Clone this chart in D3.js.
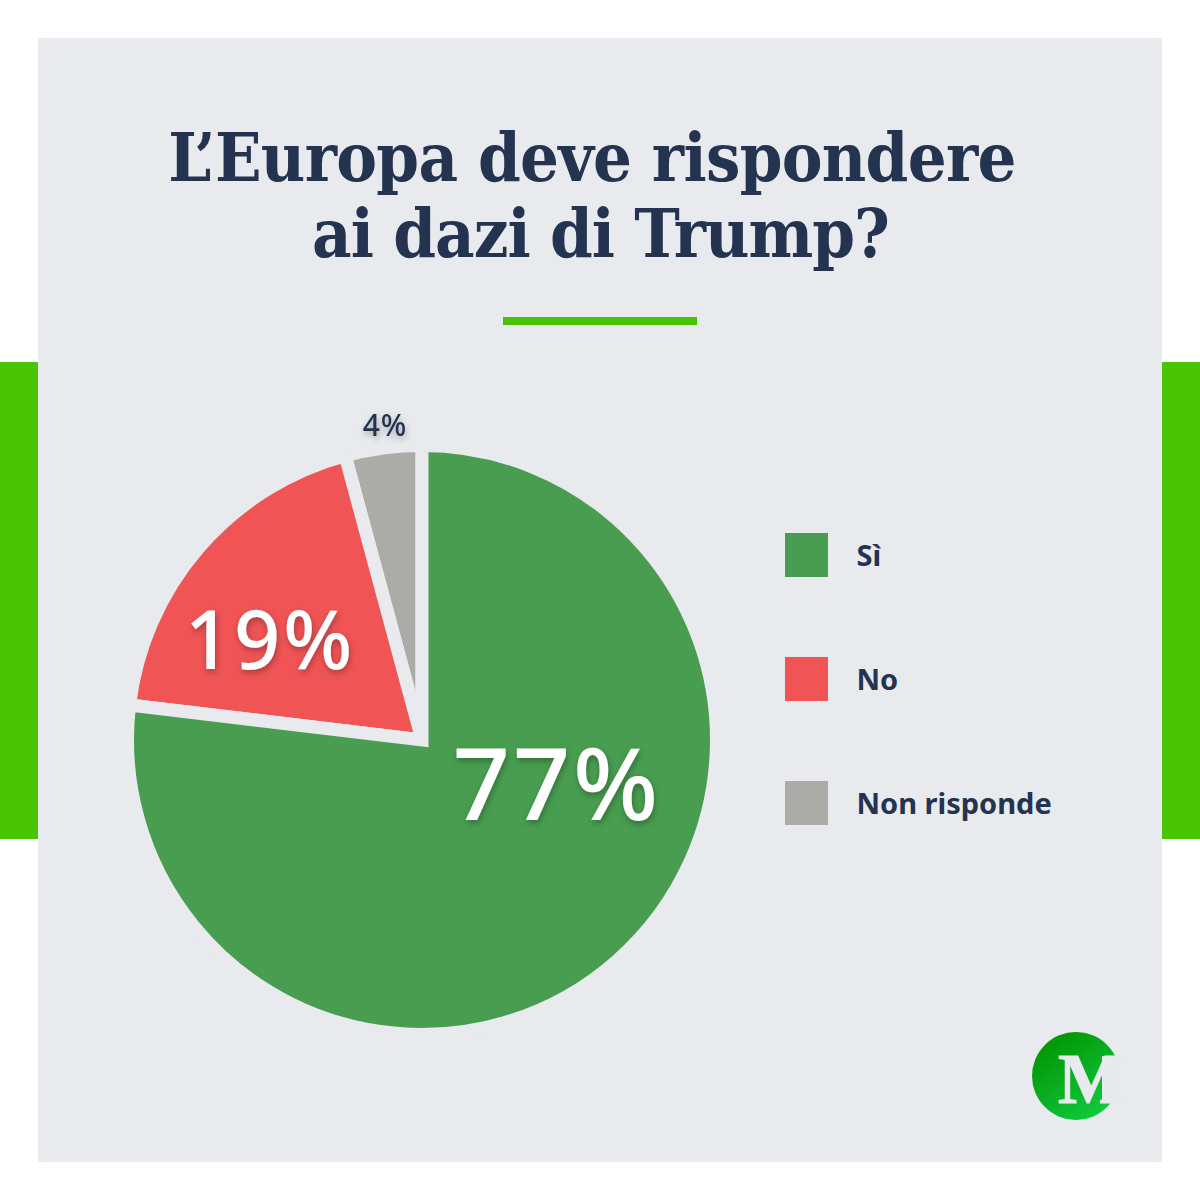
<!DOCTYPE html>
<html>
<head>
<meta charset="utf-8">
<script src="https://cdn.jsdelivr.net/npm/d3@7"></script>
<style>
  html, body { margin: 0; padding: 0; background: #fff; }
  svg { display: block; }
</style>
</head>
<body>
<div id="chart"></div>
<script>
var categories = ['Sì', 'No', 'Non risponde'];
var values = [76.9, 18.9, 4.2];
var colors = ['#489d50', '#f05455', '#ababa8'];
var titleLines = ['L’Europa deve rispondere', 'ai dazi di Trump?'];

var bg = '#e8eaee', ink = '#233350', accent = '#48c404';
var sans = '"Noto Sans", Lato, sans-serif';
var serif = '"DejaVu Serif Condensed", "DejaVu Serif", serif';
var pct = d3.format('.0f');

var svg = d3.select('#chart').append('svg')
    .attr('width', 1200)
    .attr('height', 1200);

var defs = svg.append('defs');

var shadow = defs.append('filter').attr('id', 'shadow')
    .attr('x', '-20%').attr('y', '-20%').attr('width', '140%').attr('height', '140%');
shadow.append('feDropShadow')
    .attr('dx', 1).attr('dy', 3).attr('stdDeviation', 3)
    .attr('flood-color', '#000').attr('flood-opacity', 0.3);

var logoGrad = defs.append('linearGradient').attr('id', 'logoGrad')
    .attr('x1', '15%').attr('y1', '10%').attr('x2', '80%').attr('y2', '95%');
logoGrad.append('stop').attr('offset', '0%').attr('stop-color', '#029504');
logoGrad.append('stop').attr('offset', '100%').attr('stop-color', '#10cb40');

// side bars + panel
svg.append('rect').attr('x', 0).attr('y', 362).attr('width', 1200).attr('height', 477).attr('fill', accent);
svg.append('rect').attr('x', 38).attr('y', 38).attr('width', 1124).attr('height', 1124).attr('fill', bg);

// title
var titleX = [592, 600.5];
var titleSpacing = [-0.7, -1];
svg.selectAll('text.title')
    .data(titleLines)
    .join('text')
    .attr('class', 'title')
    .attr('x', function(d, i) { return titleX[i]; })
    .attr('y', function(d, i) { return 181 + i * 76; })
    .attr('text-anchor', 'middle')
    .attr('font-family', serif)
    .attr('font-weight', 700)
    .attr('font-size', 68)
    .attr('letter-spacing', function(d, i) { return titleSpacing[i]; })
    .attr('fill', ink)
    .text(function(d) { return d; });

svg.append('rect').attr('x', 503).attr('y', 317).attr('width', 194).attr('height', 8).attr('fill', accent);

// pie, the gaps are a stroke in the panel colour so the outer edge is pushed out by half of it
var radius = 288, gap = 13;
var pie = d3.pie().sort(null)(values);
var arc = d3.arc()
    .innerRadius(0)
    .outerRadius(radius + gap / 2);

var g = svg.append('g').attr('transform', 'translate(422,740)');

// reversed so the big slice's fill sits over the small slices' stroke corners
g.selectAll('path')
    .data(pie.slice().reverse())
    .join('path')
    .attr('d', arc)
    .attr('fill', function(d) { return colors[d.index]; })
    .attr('stroke', bg)
    .attr('stroke-width', gap)
    .attr('stroke-miterlimit', 4);

// labels: offset from the pie centre, sized per slice
var labelLayout = [
    { dx: 135, dy: 80, size: 100, spacing: 3, fill: '#fff' },
    { dx: -152, dy: -71, size: 81, spacing: 3, fill: '#fff' },
    { dx: -37, dy: -304, size: 30, spacing: 1, fill: ink }
];

g.selectAll('text')
    .data(values)
    .join('text')
    .attr('x', function(d, i) { return labelLayout[i].dx; })
    .attr('y', function(d, i) { return labelLayout[i].dy; })
    .attr('text-anchor', 'middle')
    .attr('font-family', sans)
    .attr('font-weight', 500)
    .attr('font-size', function(d, i) { return labelLayout[i].size; })
    .attr('letter-spacing', function(d, i) { return labelLayout[i].spacing; })
    .attr('fill', function(d, i) { return labelLayout[i].fill; })
    .attr('filter', 'url(#shadow)')
    .text(function(d) { return pct(d) + '%'; });

// legend
var legendY = d3.scalePoint().domain(categories).range([555, 803]);

var legend = svg.selectAll('g.legend')
    .data(categories)
    .join('g')
    .attr('class', 'legend')
    .attr('transform', function(d) { return 'translate(785,' + legendY(d) + ')'; });

legend.append('rect')
    .attr('y', -22)
    .attr('width', 43)
    .attr('height', 44)
    .attr('fill', function(d, i) { return colors[i]; });

legend.append('text')
    .attr('x', 71.5)
    .attr('y', 11)
    .attr('font-family', sans)
    .attr('font-weight', 700)
    .attr('font-size', 29)
    .attr('fill', ink)
    .text(function(d) { return d; });

// logo
var logo = svg.append('g');
logo.append('circle').attr('cx', 1076).attr('cy', 1076).attr('r', 44).attr('fill', 'url(#logoGrad)');
logo.append('rect').attr('x', 1102).attr('y', 1056).attr('width', 24).attr('height', 47).attr('fill', bg);
logo.append('text')
    .attr('x', 1058)
    .attr('y', 1103)
    .attr('font-family', '"Liberation Serif", serif')
    .attr('font-weight', 700)
    .attr('font-size', 72)
    .attr('fill', bg)
    .attr('stroke', bg)
    .attr('stroke-width', 1)
    .text('M');
</script>
</body>
</html>
